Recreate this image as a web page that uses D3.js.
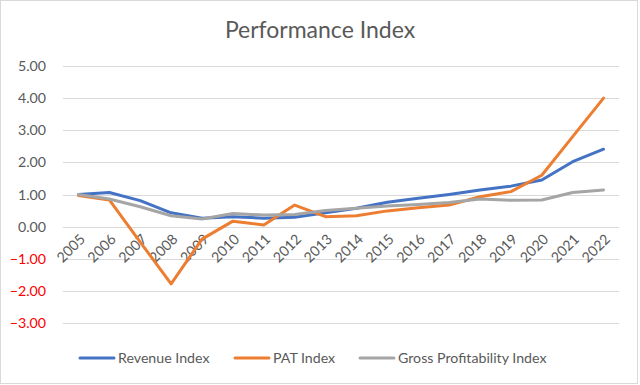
<!DOCTYPE html>
<html>
<head>
<meta charset="utf-8">
<script src="https://cdn.jsdelivr.net/npm/d3@7"></script>
<style>
  body { margin: 0; background: #fff; }
  text { font-family: Lato, "Noto Sans", sans-serif; }
</style>
</head>
<body>
<div id="chart"></div>
<script>
var years = ["2005", "2006", "2007", "2008", "2009", "2010", "2011", "2012", "2013",
    "2014", "2015", "2016", "2017", "2018", "2019", "2020", "2021", "2022"];
var revenueIndex = [1.00, 1.06, 0.81, 0.43, 0.26, 0.31, 0.26, 0.29, 0.43,
    0.57, 0.76, 0.88, 1.00, 1.14, 1.26, 1.45, 2.02, 2.41];
var patIndex = [0.97, 0.83, -0.48, -1.78, -0.39, 0.17, 0.05, 0.67, 0.31,
    0.34, 0.49, 0.59, 0.67, 0.93, 1.09, 1.60, 2.80, 4.00];
var grossIndex = [1.00, 0.86, 0.62, 0.34, 0.24, 0.41, 0.36, 0.38, 0.50,
    0.57, 0.64, 0.69, 0.75, 0.86, 0.82, 0.83, 1.06, 1.14];
var yTicks = [5, 4, 3, 2, 1, 0, -1, -2, -3];
var seriesNames = ["Revenue Index", "PAT Index", "Gross Profitability Index"];
var seriesColors = ["#4472C4", "#ED7D31", "#A5A5A5"];

(function () {
    var W = 640, H = 385;
    var margin = { top: 66, left: 63, right: 21, bottom: 62 };

    var svg = d3.select("#chart")
        .append("svg")
        .attr("width", W)
        .attr("height", H);

    // outer chart border
    svg.append("rect")
        .attr("x", 0.5).attr("y", 0.5)
        .attr("width", W - 3).attr("height", H - 2)
        .attr("fill", "#fff")
        .attr("stroke", "#d9d9d9");

    svg.append("text")
        .attr("x", 320)
        .attr("y", 38)
        .attr("text-anchor", "middle")
        .attr("font-size", 23)
        .attr("fill", "#595959")
        .text("Performance Index");

    var x = d3.scalePoint()
        .domain(years)
        .range([margin.left, W - margin.right])
        .padding(0.5);

    var y = d3.scaleLinear()
        .domain([-3, 5])
        .range([323, 66]);

    // gridlines
    svg.append("g")
        .selectAll("line")
        .data(yTicks)
        .enter().append("line")
        .attr("x1", margin.left)
        .attr("x2", W - margin.right)
        .attr("y1", d => Math.round(y(d)) + 0.5)
        .attr("y2", d => Math.round(y(d)) + 0.5)
        .attr("stroke", "#d9d9d9")
        .attr("stroke-width", 1);

    // y labels
    svg.append("g")
        .selectAll("text")
        .data(yTicks)
        .enter().append("text")
        .attr("x", 46)
        .attr("y", d => y(d) + 5)
        .attr("text-anchor", "end")
        .attr("font-size", 14.2)
        .attr("fill", d => d < 0 ? "#FF0000" : "#595959")
        .text(d => d3.format(".2f")(d));

    // x labels at zero line, rotated
    svg.append("g")
        .selectAll("text")
        .data(years)
        .enter().append("text")
        .attr("transform", d => "translate(" + (x(d) + 4) + "," + (y(0) + 10) + ") rotate(-45)")
        .attr("text-anchor", "end")
        .attr("dy", "0.35em")
        .attr("font-size", 14.2)
        .attr("fill", "#595959")
        .text(d => d);

    var line = d3.line()
        .x((d, i) => x(years[i]))
        .y(d => y(d));

    var allSeries = [revenueIndex, patIndex, grossIndex];
    svg.append("g")
        .selectAll("path")
        .data(allSeries)
        .enter().append("path")
        .attr("d", line)
        .attr("fill", "none")
        .attr("stroke", (d, i) => seriesColors[i])
        .attr("stroke-width", 3)
        .attr("stroke-linejoin", "round")
        .attr("stroke-linecap", "round");

    // legend
    var legendX = [80, 235, 360];
    var legend = svg.append("g")
        .selectAll("g")
        .data(seriesNames)
        .enter().append("g")
        .attr("transform", (d, i) => "translate(" + legendX[i] + ",358)");

    legend.append("line")
        .attr("x1", 0).attr("x2", 34)
        .attr("stroke", (d, i) => seriesColors[i])
        .attr("stroke-width", 3)
        .attr("stroke-linecap", "round");

    legend.append("text")
        .attr("x", 38)
        .attr("y", 5)
        .attr("font-size", 14.2)
        .attr("fill", "#595959")
        .text(d => d);
})();
</script>
</body>
</html>
